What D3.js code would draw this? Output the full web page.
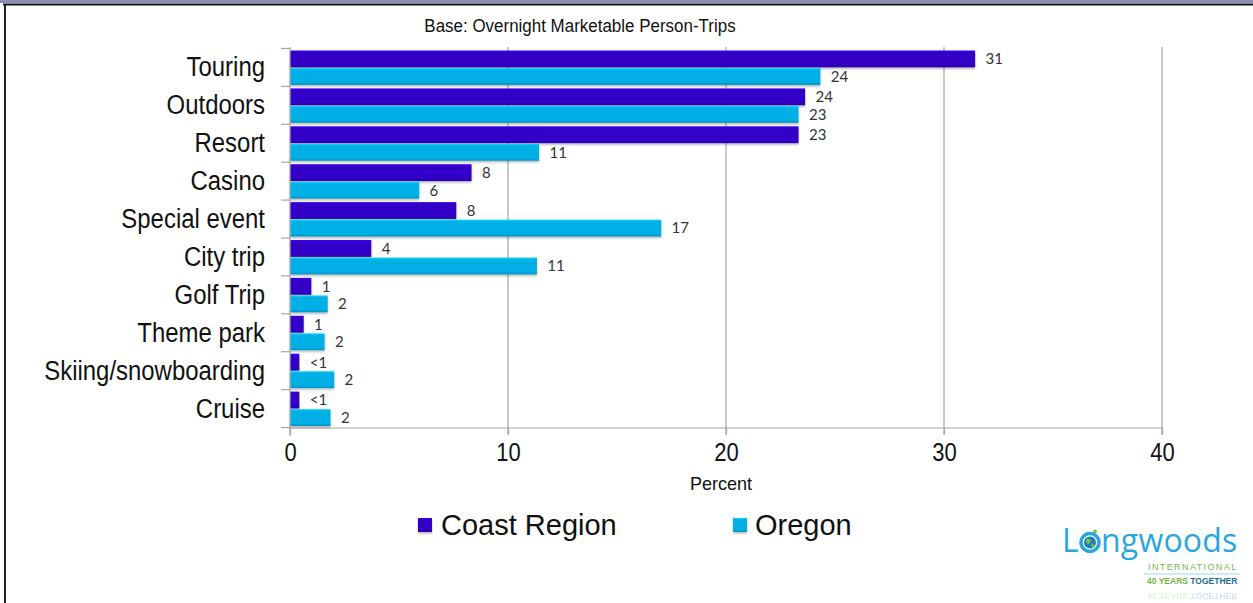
<!DOCTYPE html>
<html>
<head>
<meta charset="utf-8">
<script src="https://cdn.jsdelivr.net/npm/d3@7"></script>
<style>
  html, body { margin: 0; padding: 0; background: #fff; }
  svg { display: block; }
</style>
</head>
<body>
<svg id="chart" width="1253" height="603"></svg>
<script>
// Trip types and shares (%) of overnight marketable person-trips
const categories = ["Touring", "Outdoors", "Resort", "Casino", "Special event",
                    "City trip", "Golf Trip", "Theme park", "Skiing/snowboarding", "Cruise"];
const coastRegion = [31.4, 23.6, 23.3, 8.3, 7.6, 3.7, 0.95, 0.6, 0.4, 0.4];
const oregon      = [24.3, 23.3, 11.4, 5.9, 17.0, 11.3, 1.7, 1.56, 2.0, 1.83];
const seriesNames = ["Coast Region", "Oregon"];
const xTicks = [0, 10, 20, 30, 40];

const colors = { "Coast Region": "#3102c6", "Oregon": "#06afe6" };
const regular = "'Liberation Sans', Arial, sans-serif";

const svg = d3.select("#chart");

// page frame
svg.append("rect").attr("x", 0).attr("y", 0).attr("width", 1253).attr("height", 3).attr("fill", "#8c8cb2");
svg.append("line").attr("x1", 3).attr("x2", 1253).attr("y1", 4.5).attr("y2", 4.5).attr("stroke", "#111").attr("stroke-width", 2);
svg.append("line").attr("x1", 5).attr("x2", 5).attr("y1", 4).attr("y2", 603).attr("stroke", "#222").attr("stroke-width", 2);

const defs = svg.append("defs");
const shadow = defs.append("filter").attr("id", "shadow").attr("x", "-5%").attr("y", "-30%").attr("width", "110%").attr("height", "170%");
shadow.append("feDropShadow").attr("dx", 0).attr("dy", 1.5).attr("stdDeviation", 0.8).attr("flood-color", "#000").attr("flood-opacity", 0.3);

seriesNames.forEach((s, i) => {
  const base = d3.color(colors[s]);
  const g = defs.append("linearGradient").attr("id", "grad" + i).attr("x1", 0).attr("x2", 0).attr("y1", 0).attr("y2", 1);
  g.append("stop").attr("offset", "0%").attr("stop-color", base.brighter(0.6));
  g.append("stop").attr("offset", "12%").attr("stop-color", base);
  g.append("stop").attr("offset", "85%").attr("stop-color", base);
  g.append("stop").attr("offset", "100%").attr("stop-color", base.darker(0.5));
});

// title
svg.append("text").attr("x", 580).attr("y", 32).attr("text-anchor", "middle")
  .attr("font-family", regular).attr("font-size", 17.5).attr("fill", "#111")
  .attr("transform", "translate(580,0) scale(0.97,1) translate(-580,0)")
  .text("Base: Overnight Marketable Person-Trips");

const x = d3.scaleLinear().domain([0, 40]).range([290, 1162]);
const y = d3.scaleBand().domain(categories).range([48.5, 427.5]).paddingInner(0);
const ySub = d3.scaleBand().domain(seriesNames).range([2, y.bandwidth() - 1.5]).paddingInner(0.04);

// vertical gridlines
svg.append("g").selectAll("line").data(xTicks.filter(d => d > 0)).join("line")
  .attr("x1", d => x(d)).attr("x2", d => x(d))
  .attr("y1", 47).attr("y2", 435)
  .attr("stroke", "#a6a6a6").attr("stroke-width", 1.2);

// x axis
const xAxis = svg.append("g").attr("transform", "translate(0,427.5)")
  .call(d3.axisBottom(x).tickValues(xTicks).tickSize(7).tickPadding(9).tickFormat(d3.format("d")));
xAxis.select(".domain").attr("stroke", "#a6a6a6").attr("stroke-width", 1.2);
xAxis.selectAll(".tick line").attr("stroke", "#a6a6a6").attr("stroke-width", 1.2);
xAxis.selectAll("text").attr("font-family", regular).attr("font-size", 25).attr("fill", "#111")
  .attr("transform", "scale(0.88,1)");

// y axis (condensed category labels)
const yAxis = svg.append("g").attr("transform", "translate(290,0)")
  .call(d3.axisLeft(y).tickSize(0).tickPadding(25));
yAxis.select(".domain").remove();
yAxis.selectAll("text").attr("font-family", regular).attr("font-size", 28).attr("fill", "#111")
  .attr("x", 0).attr("transform", "translate(-25,0) scale(0.855,1)");
// category boundary ticks
svg.append("g").selectAll("line").data(d3.range(categories.length + 1)).join("line")
  .attr("x1", 281).attr("x2", 290)
  .attr("y1", i => 48.5 + i * y.step()).attr("y2", i => 48.5 + i * y.step())
  .attr("stroke", "#a6a6a6").attr("stroke-width", 1.2);
svg.append("line").attr("x1", 290).attr("x2", 290).attr("y1", 47).attr("y2", 436)
  .attr("stroke", "#a6a6a6").attr("stroke-width", 1.2);

// bars
const rows = categories.map((c, i) => ({ cat: c, vals: [coastRegion[i], oregon[i]] }));
const fmt = v => v < 0.5 ? "<1" : String(Math.round(v));

const groups = svg.append("g").selectAll("g").data(rows).join("g")
  .attr("transform", d => `translate(0,${y(d.cat)})`);

groups.selectAll("rect").data(d => d.vals.map((v, i) => ({ s: seriesNames[i], v, i }))).join("rect")
  .attr("x", x(0) + 0.6)
  .attr("y", d => ySub(d.s))
  .attr("width", d => x(d.v) - x(0))
  .attr("height", ySub.bandwidth())
  .attr("fill", d => `url(#grad${d.i})`)
  .attr("filter", "url(#shadow)");

groups.selectAll("text").data(d => d.vals.map((v, i) => ({ s: seriesNames[i], v, i }))).join("text")
  .attr("x", d => x(d.v) + 11)
  .attr("y", d => ySub(d.s) + ySub.bandwidth() / 2)
  .attr("dy", "0.36em")
  .attr("font-family", "Lato, 'Open Sans', sans-serif").attr("font-size", 15)
  .attr("fill", "#333")
  .text(d => fmt(d.v));

// x axis title
svg.append("text").attr("x", 721).attr("y", 490).attr("text-anchor", "middle")
  .attr("font-family", regular).attr("font-size", 19).attr("fill", "#111")
  .attr("transform", "translate(721,0) scale(0.95,1) translate(-721,0)").text("Percent");

// legend
const legendX = [418, 733];
const legend = svg.append("g").selectAll("g").data(seriesNames).join("g")
  .attr("transform", (d, i) => `translate(${legendX[i]},518)`);
legend.append("rect").attr("width", 14).attr("height", 14)
  .attr("fill", (d, i) => `url(#grad${i})`).attr("filter", "url(#shadow)");
legend.append("text").attr("x", (d, i) => i === 0 ? 23 : 22).attr("y", 17)
  .attr("font-family", regular).attr("font-size", 29).attr("fill", "#111").text(d => d);

// company mark
const logo = svg.append("g").attr("transform", "translate(1062,0)");
const logoFont = "'Open Sans', Lato, sans-serif";
logo.append("text").attr("x", 0).attr("y", 552).attr("font-family", logoFont).attr("font-size", 32)
  .attr("fill", "#2aa6df").text("L");
const globe = logo.append("g").attr("transform", "translate(28,542.5)");
globe.append("circle").attr("r", 9).attr("fill", "none").attr("stroke", "#2aa6df").attr("stroke-width", 3.4);
globe.append("circle").attr("r", 6).attr("fill", "#1b7fbf");
globe.append("path").attr("d", "M-4,-3 Q-1,-5 1,-2 Q0,1 -2,2 Q-4,1 -4,-3 Z M2,1 Q5,2 4,5 Q2,5 1,3 Z").attr("fill", "#7ac143");
globe.append("circle").attr("cx", 5).attr("cy", -11).attr("r", 2).attr("fill", "#7ac143");
logo.append("text").attr("x", 39).attr("y", 552).attr("font-family", logoFont).attr("font-size", 32)
  .attr("fill", "#2aa6df").attr("letter-spacing", 0.2).text("ngwoods");
logo.append("text").attr("x", 86).attr("y", 570).attr("font-family", regular).attr("font-size", 9)
  .attr("fill", "#7ab648").attr("letter-spacing", 1.4).text("INTERNATIONAL");
logo.append("line").attr("x1", 82).attr("x2", 178).attr("y1", 574).attr("y2", 574).attr("stroke", "#9fd3ee").attr("stroke-width", 1.2);
const tag = logo.append("text").attr("x", 85).attr("y", 584).attr("font-family", regular).attr("font-size", 8.5)
  .attr("font-weight", "bold");
tag.append("tspan").attr("fill", "#6fb443").text("40 YEARS ");
tag.append("tspan").attr("fill", "#1d6d8e").text("TOGETHER");
// faded mirror of the tagline
const refl = logo.append("text").attr("transform", "translate(0,1177) scale(1,-1)")
  .attr("x", 85).attr("y", 584).attr("font-family", regular).attr("font-size", 8.5)
  .attr("font-weight", "bold").attr("opacity", 0.18);
refl.append("tspan").attr("fill", "#6fb443").text("40 YEARS ");
refl.append("tspan").attr("fill", "#1d6d8e").text("TOGETHER");
</script>
</body>
</html>
